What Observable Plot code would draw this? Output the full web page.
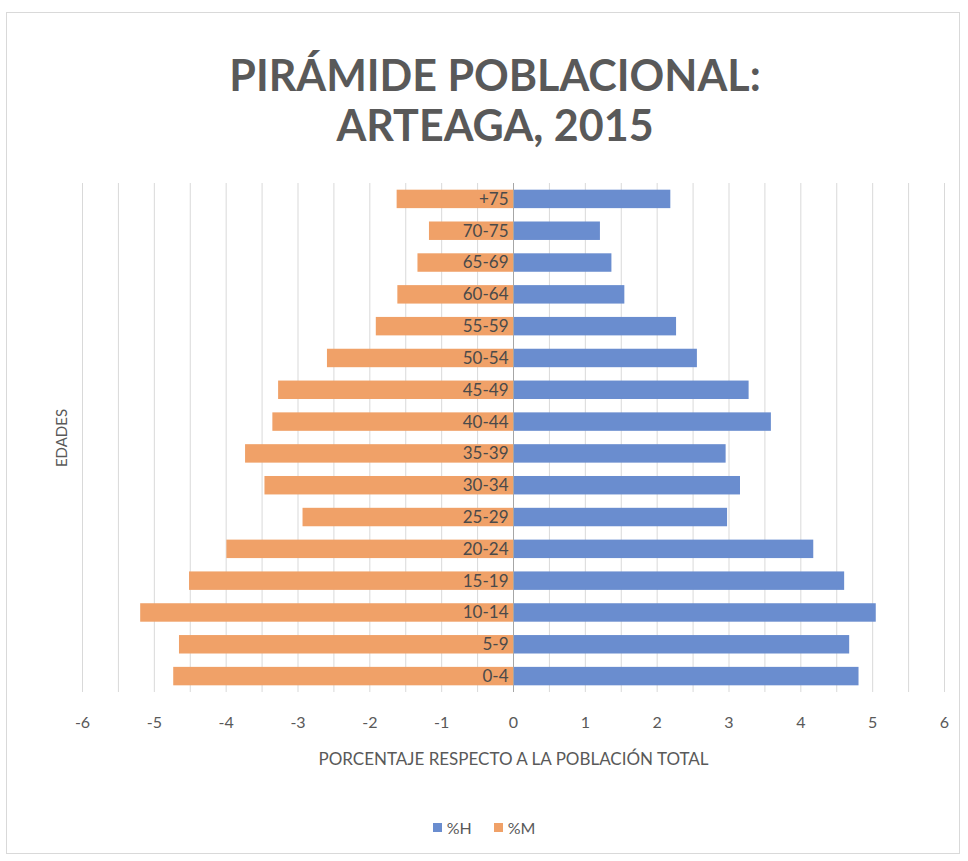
<!DOCTYPE html>
<html>
<head>
<meta charset="utf-8">
<script src="https://cdn.jsdelivr.net/npm/d3@7"></script>
<script src="https://cdn.jsdelivr.net/npm/@observablehq/plot@0.6"></script>
<style>
  html, body { margin: 0; padding: 0; background: #ffffff; }
  body { width: 968px; height: 861px; position: relative; overflow: hidden; font-family: Lato, "Open Sans", sans-serif; }
  #frame { position: absolute; left: 6px; top: 12px; width: 954px; height: 842px; border: 1.5px solid #d9d9d9; box-sizing: border-box; }
  #title { position: absolute; left: 0; top: 50px; width: 990px; text-align: center; font-size: 43px; font-weight: 700; line-height: 50px; color: #595959; }
  #chart { position: absolute; left: 0; top: 175px; }
  #legend { position: absolute; top: 818px; left: 0; width: 968px; display: flex; justify-content: center; gap: 22px; font-size: 16px; color: #595959; }
  #legend span.item { display: inline-flex; align-items: center; gap: 5px; }
  #legend span.sw { display: inline-block; width: 9px; height: 9px; }
</style>
</head>
<body>
<div id="frame"></div>
<div id="title">PIRÁMIDE POBLACIONAL:<br>ARTEAGA, 2015</div>
<div id="chart"></div>
<div id="legend"></div>
<script>
const ages = ["+75","70-75","65-69","60-64","55-59","50-54","45-49","40-44","35-39","30-34","25-29","20-24","15-19","10-14","5-9","0-4"];
const hombres = [2.19, 1.21, 1.37, 1.55, 2.27, 2.56, 3.28, 3.59, 2.96, 3.16, 2.98, 4.18, 4.61, 5.05, 4.68, 4.81];
const mujeres = [1.62, 1.17, 1.33, 1.61, 1.91, 2.59, 3.27, 3.35, 3.73, 3.46, 2.93, 3.99, 4.51, 5.19, 4.65, 4.73];
const xTicks = [-6,-5,-4,-3,-2,-1,0,1,2,3,4,5,6];
const gridValues = d3.range(-6, 6.01, 0.5);
const seriesNames = ["%H", "%M"];
const seriesColors = ["#6A8DCF", "#F0A168"];

const data = ages.map((a, i) => ({age: a, h: hombres[i], m: mujeres[i]}));

const chart = Plot.plot({
  width: 968,
  height: 607,
  marginLeft: 82,
  marginRight: 24,
  marginTop: 8,
  marginBottom: 90,
  style: {fontFamily: "Lato, 'Open Sans', sans-serif", color: "#595959", background: "transparent"},
  x: {domain: [-6, 6]},
  y: {domain: ages, paddingInner: 0.42, paddingOuter: 0.21, round: false, axis: null},
  marks: [
    Plot.ruleX(gridValues, {stroke: "#d9d9d9", strokeWidth: 1}),
    Plot.barX(data, {x1: 0, x2: d => -d.m, y: "age", fill: seriesColors[1]}),
    Plot.barX(data, {x1: 0, x2: "h", y: "age", fill: seriesColors[0]}),
    Plot.ruleX([0], {stroke: "#a6a6a6", strokeWidth: 1}),
    Plot.text(data, {x: 0, y: "age", text: "age", dx: -5, textAnchor: "end", fill: "#4a4a4a", fontSize: 17}),
    Plot.axisX({ticks: xTicks, tickSize: 0, tickPadding: 24, fontSize: 16, tickFormat: d => String(d).replace("−", "-"),
      label: "PORCENTAJE RESPECTO A LA POBLACIÓN TOTAL", labelAnchor: "center", labelOffset: 72, labelArrow: "none"}),
    Plot.text(["EDADES"], {frameAnchor: "left", textAnchor: "middle", rotate: -90, dx: -20, fontSize: 15, fill: "#595959"})
  ]
});
chart.querySelectorAll("[aria-label='x-axis label'] text, g[aria-label='x-axis label']").forEach(el => el.setAttribute("font-size", "17"));
document.getElementById("chart").appendChild(chart);

const legend = document.getElementById("legend");
seriesNames.forEach((n, i) => {
  const item = document.createElement("span");
  item.className = "item";
  const sw = document.createElement("span");
  sw.className = "sw";
  sw.style.background = seriesColors[i];
  item.appendChild(sw);
  item.appendChild(document.createTextNode(n));
  legend.appendChild(item);
});
</script>
</body>
</html>
